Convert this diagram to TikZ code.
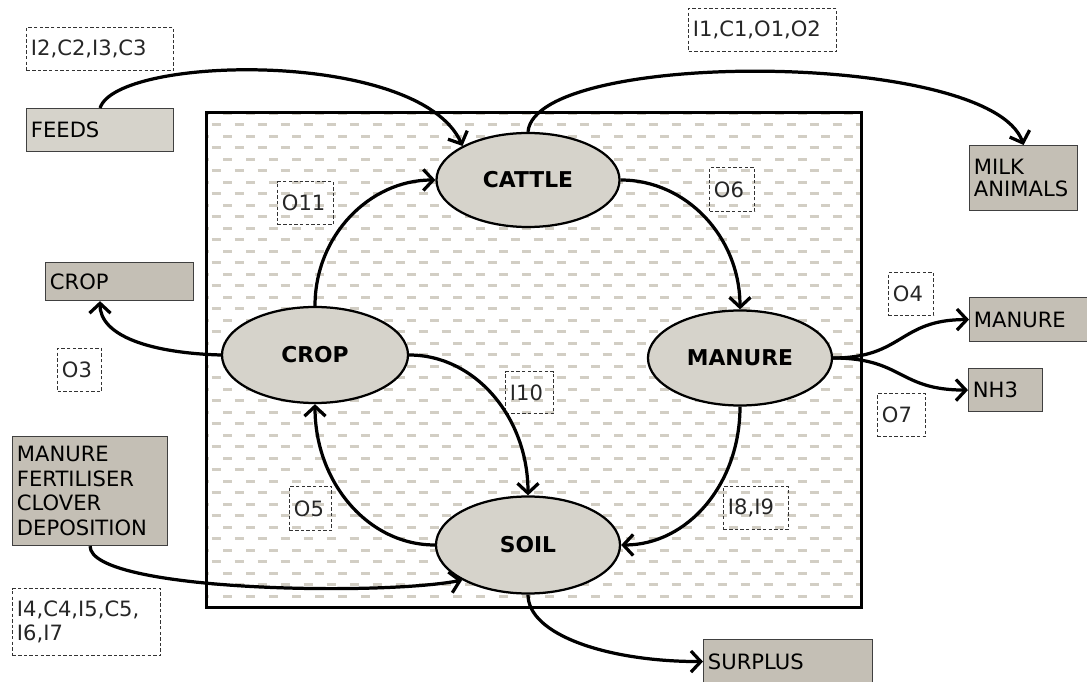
\documentclass[tikz,border=0pt]{standalone}
\usepackage{fontspec}
\setmainfont{DejaVu Sans}
\usetikzlibrary{arrows.meta, shapes.geometric}
\definecolor{pool}{RGB}{214,211,203}
\definecolor{palebox}{RGB}{214,211,203}
\definecolor{darkbox}{RGB}{196,191,181}
\definecolor{hatch}{RGB}{210,206,196}
\tikzset{
    flow/.style={->, line width=2.3pt},
    stock/.style={ellipse, draw, line width=1.6pt, fill=pool, inner sep=0pt,
        font=\fontsize{15.5}{18}\selectfont\bfseries},
    extbox/.style={draw=black!75, line width=0.8pt, fill=darkbox, anchor=north west,
        inner xsep=0.11cm, inner ysep=0pt, align=left, font=\fontsize{15}{17.5}\selectfont},
    tagbox/.style={draw=black!80, dash pattern=on 2.4pt off 1.6pt, line width=0.8pt,
        anchor=north west, inner xsep=0.11cm, inner ysep=0pt, align=left,
        text=black!85, font=\fontsize{15}{17.5}\selectfont},
    % one pixel of the layout is 0.025cm, y runs downwards
    hatchrow/.style={hatch, line width=2pt, dash pattern=on 0.225cm off 0.35cm},
}

\begin{document}
\begin{tikzpicture}[x=0.025cm, y=-0.025cm, >={Straight Barb[length=7pt, width=15pt]}]
    \useasboundingbox (0,0) rectangle (1087,682);

    % farm boundary with its dashed fill
    \begin{scope}
        \clip (205,111) rectangle (860,606);
        \foreach \k in {0,...,21} {
            \draw[hatchrow] (200,{113.2+23*\k}) -- (870,{113.2+23*\k});
            \draw[hatchrow] (188.5,{124.7+23*\k}) -- (870,{124.7+23*\k});
        }
    \end{scope}
    \node[draw, line width=2.2pt, anchor=north west, inner sep=0pt,
          minimum width=16.375cm, minimum height=12.375cm] (farm) at (205,111) {};

    % pools inside the farm
    \node[stock, minimum width=4.575cm, minimum height=2.35cm] (cattle) at (528,180) {CATTLE};
    \node[stock, minimum width=4.65cm, minimum height=2.4cm] (crop) at (315,355) {CROP};
    \node[stock, minimum width=4.6cm, minimum height=2.375cm] (manure) at (740,358) {MANURE};
    \node[stock, minimum width=4.6cm, minimum height=2.425cm] (soil) at (528,545) {SOIL};

    % inputs and outputs
    \node[extbox, fill=palebox, text width=3.455cm, minimum height=1.075cm] (feeds) at (26,108) {FEEDS};
    \node[extbox, text width=3.48cm, minimum height=0.95cm] (cropout) at (45,262) {CROP};
    \node[extbox, text width=2.48cm, minimum height=1.625cm,
          font=\fontsize{15}{15.5}\selectfont] (milk) at (969,145) {MILK\\ANIMALS};
    \node[extbox, text width=2.73cm, minimum height=1.1cm] (manureout) at (969,297) {MANURE};
    \node[extbox, text width=1.63cm, minimum height=1.075cm] (nhthree) at (968,368) {NH3};
    \node[extbox, text width=3.655cm, minimum height=2.725cm] (inputs) at (12,436)
        {MANURE\\FERTILISER\\CLOVER\\DEPOSITION};
    \node[extbox, text width=4.005cm, minimum height=1.1cm] (surplus) at (703,639) {SURPLUS};

    % flow codes
    \node[tagbox, text width=3.455cm, minimum height=1.075cm] (tfeeds) at (26,27) {I2,C2,I3,C3};
    \node[tagbox, text width=3.48cm, minimum height=1.075cm] (tmilk) at (688,8) {I1,C1,O1,O2};
    \node[tagbox, text width=1.18cm, minimum height=1.075cm] (toeleven) at (277,181) {O11};
    \node[tagbox, text width=0.905cm, minimum height=1.1cm] (tosix) at (709,167) {O6};
    \node[tagbox, text width=0.905cm, minimum height=1.075cm] (tofour) at (888,272) {O4};
    \node[tagbox, text width=0.88cm, minimum height=1.075cm] (tothree) at (57,348) {O3};
    \node[tagbox, text width=0.98cm, minimum height=1.05cm] (titen) at (505,371) {I10};
    \node[tagbox, text width=0.98cm, minimum height=1.075cm] (toseven) at (877,393) {O7};
    \node[tagbox, text width=0.83cm, minimum height=1.1cm] (tofive) at (289,486) {O5};
    \node[tagbox, text width=1.405cm, minimum height=1.075cm] (tieight) at (723,486) {I8,I9};
    \node[tagbox, text width=3.48cm, minimum height=1.675cm] (tifour) at (12,588) {I4,C4,I5,C5,\\I6,I7};

    % flows
    \draw[flow] (feeds.north) .. controls +(17,-53) and +(-43,-97) .. (cattle.north west);
    \draw[flow] (cattle.north) .. controls +(7,-83) and +(-33,-95) .. (milk.north);
    \draw[flow] (crop.north) .. controls +(0,-70) and +(-66,0) .. (cattle.west);
    \draw[flow] (cattle.east) .. controls +(66,0) and +(0,-72) .. (manure.north);
    \draw[flow] (crop.west) .. controls +(-70,-2) and +(0,35) .. ([xshift=1.375cm]cropout.south west);
    \draw[flow] (crop.east) .. controls +(66,0) and +(0,-78) .. (soil.north);
    \draw[flow] (soil.west) .. controls +(-67,0) and +(0,78) .. (crop.south);
    \draw[flow] (manure.south) .. controls +(0,78) and +(66,0) .. (soil.east);
    \draw[flow] (manure.east) .. controls +(70,0) and +(-70,0) .. (manureout.west);
    \draw[flow] (manure.east) .. controls +(70,0) and +(-70,0) .. (nhthree.west);
    \draw[flow] (inputs.south) .. controls +(0,45) and +(-83,16) .. (soil.south west);
    \draw[flow] (soil.south) .. controls +(0,40) and +(-96,0) .. (surplus.west);
\end{tikzpicture}
\end{document}
